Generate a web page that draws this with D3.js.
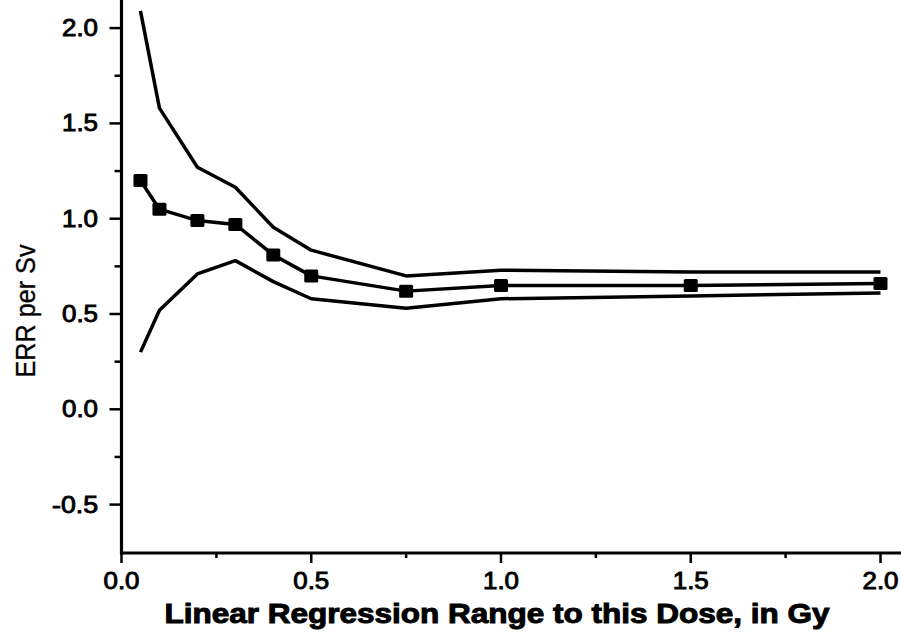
<!DOCTYPE html>
<html><head><meta charset="utf-8">
<script src="https://cdn.jsdelivr.net/npm/d3@7"></script>
<style>body{margin:0;background:#fff}svg{display:block}</style>
</head><body>
<svg id="c" width="901" height="636"></svg>
<script>
const doses = [0.05, 0.1, 0.2, 0.3, 0.4, 0.5, 0.75, 1.0, 1.5, 2.0];
const errPerSv = [1.20, 1.05, 0.99, 0.97, 0.81, 0.70, 0.62, 0.65, 0.65, 0.66];
const upperBound = [2.09, 1.58, 1.27, 1.165, 0.955, 0.835, 0.70, 0.73, 0.72, 0.72];
const lowerBound = [0.30, 0.52, 0.71, 0.78, 0.67, 0.58, 0.53, 0.58, 0.595, 0.61];
const xTicks = [0, 0.5, 1.0, 1.5, 2.0];
const xMinor = [0.25, 0.75, 1.25, 1.75];
const yTicks = [-0.5, 0.0, 0.5, 1.0, 1.5, 2.0];
const yMinor = [-0.25, 0.25, 0.75, 1.25, 1.75];
const xTitle = "Linear Regression Range to this Dose, in Gy";
const yTitle = "ERR per Sv";

const svg = d3.select("#c");
const x = d3.scaleLinear().domain([0, 2.0]).range([121.5, 880.5]);
const y = d3.scaleLinear().domain([0, 2.0]).range([409.3, 28.1]);
const yBottom = y(-0.754), yTop = 0;
const xRight = 901;
const font = "Liberation Sans, Arial, sans-serif";

// axes lines
svg.append("line").attr("x1", x(0)).attr("x2", x(0)).attr("y1", yTop).attr("y2", yBottom + 1.5)
  .attr("stroke", "#000").attr("stroke-width", 3.2);
svg.append("line").attr("x1", x(0) - 1.5).attr("x2", xRight).attr("y1", yBottom).attr("y2", yBottom)
  .attr("stroke", "#000").attr("stroke-width", 3.2);

// y ticks
svg.selectAll(".ytm").data(yTicks).join("line")
  .attr("x1", x(0) - 12).attr("x2", x(0)).attr("y1", d => y(d)).attr("y2", d => y(d))
  .attr("stroke", "#000").attr("stroke-width", 2.5);
svg.selectAll(".ytn").data(yMinor).join("line")
  .attr("x1", x(0) - 7).attr("x2", x(0)).attr("y1", d => y(d)).attr("y2", d => y(d))
  .attr("stroke", "#000").attr("stroke-width", 2.5);
svg.selectAll(".ytl").data(yTicks).join("text")
  .attr("x", 98).attr("y", d => y(d) + 8)
  .attr("text-anchor", "end").attr("font-family", font).attr("font-size", 23)
  .attr("stroke", "#000").attr("stroke-width", 0.9)
  .attr("textLength", d => (d < 0 ? 46 : 36)).attr("lengthAdjust", "spacingAndGlyphs")
  .text(d => d3.format(".1f")(d).replace("−", "-"));

// x ticks
svg.selectAll(".xtm").data(xTicks).join("line")
  .attr("x1", d => x(d)).attr("x2", d => x(d)).attr("y1", yBottom).attr("y2", yBottom + 10)
  .attr("stroke", "#000").attr("stroke-width", 2.5);
svg.selectAll(".xtn").data(xMinor).join("line")
  .attr("x1", d => x(d)).attr("x2", d => x(d)).attr("y1", yBottom).attr("y2", yBottom + 5)
  .attr("stroke", "#000").attr("stroke-width", 2.5);
svg.selectAll(".xtl").data(xTicks).join("text")
  .attr("x", d => x(d)).attr("y", 589)
  .attr("text-anchor", "middle").attr("font-family", font).attr("font-size", 23)
  .attr("stroke", "#000").attr("stroke-width", 0.9)
  .attr("textLength", 36).attr("lengthAdjust", "spacingAndGlyphs")
  .text(d => d3.format(".1f")(d));

// titles
svg.append("text").attr("x", 497).attr("y", 623).attr("text-anchor", "middle")
  .attr("font-family", font).attr("font-weight", "bold").attr("font-size", 28)
  .attr("stroke", "#000").attr("stroke-width", 1)
  .attr("textLength", 665).attr("lengthAdjust", "spacingAndGlyphs")
  .text(xTitle);
svg.append("text").attr("transform", "translate(35,311) rotate(-90)").attr("text-anchor", "middle")
  .attr("font-family", font).attr("font-size", 27)
  .attr("stroke", "#000").attr("stroke-width", 0.3)
  .attr("textLength", 133).attr("lengthAdjust", "spacingAndGlyphs")
  .text(yTitle);

// lines
const line = d3.line().x(d => x(d[0])).y(d => y(d[1]));
[upperBound, lowerBound, errPerSv].forEach(vals => {
  svg.append("path").datum(doses.map((d, i) => [d, vals[i]]))
    .attr("d", line).attr("fill", "none").attr("stroke", "#000")
    .attr("stroke-width", 3.5).attr("stroke-linejoin", "round");
});
// markers
svg.selectAll(".mk").data(doses.map((d, i) => [d, errPerSv[i]])).join("rect")
  .attr("x", d => x(d[0]) - 7).attr("y", d => y(d[1]) - 6.5)
  .attr("width", 14).attr("height", 13).attr("rx", 1.5).attr("fill", "#000");
</script>
</body></html>
